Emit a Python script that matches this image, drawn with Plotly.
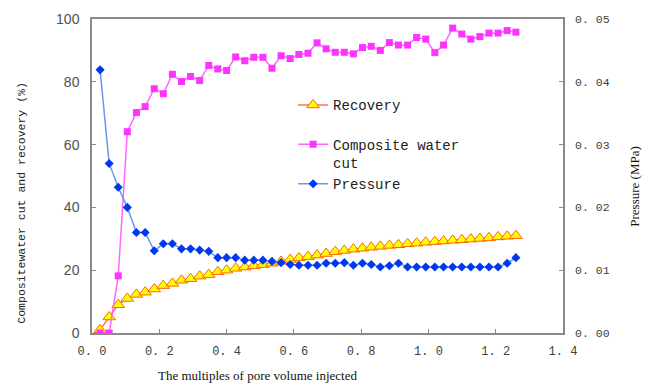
import plotly.graph_objects as go

pv_injected = [0.024, 0.051, 0.078, 0.105, 0.132, 0.158, 0.185, 0.212, 0.239, 0.266,
               0.293, 0.320, 0.347, 0.374, 0.400, 0.427, 0.454, 0.481, 0.508, 0.535,
               0.562, 0.589, 0.615, 0.642, 0.669, 0.696, 0.723, 0.750, 0.777, 0.804,
               0.830, 0.857, 0.884, 0.911, 0.938, 0.965, 0.992, 1.019, 1.045, 1.072,
               1.099, 1.126, 1.153, 1.180, 1.207, 1.234, 1.260]

recovery = [1.0, 5.1, 9.0, 11.0, 12.3, 13.0, 14.0, 15.1, 15.8, 16.8,
            17.3, 18.1, 18.6, 19.5, 20.0, 20.6, 21.0, 21.4, 21.8, 22.2,
            22.8, 23.4, 23.9, 24.3, 24.8, 25.3, 25.9, 26.3, 26.7, 27.0,
            27.3, 27.6, 27.9, 28.1, 28.4, 28.6, 28.9, 29.1, 29.3, 29.5,
            29.7, 29.9, 30.1, 30.3, 30.6, 30.8, 31.0]

water_cut = [0.0, 0.0, 18.2, 64.1, 70.2, 72.1, 77.8, 76.2, 82.4, 80.1,
             81.7, 80.4, 85.2, 84.1, 83.6, 87.9, 86.7, 87.8, 87.8, 84.3,
             88.3, 87.4, 88.7, 89.1, 92.4, 90.5, 89.4, 89.4, 88.9, 90.9,
             91.3, 90.0, 92.5, 91.7, 91.7, 94.1, 93.6, 89.3, 91.7, 97.1,
             95.2, 93.6, 94.4, 95.5, 95.5, 96.3, 95.8]

pressure = [0.0419, 0.0270, 0.0232, 0.0200, 0.0160, 0.0160, 0.0131, 0.0142, 0.0142, 0.0134,
            0.0134, 0.0132, 0.0130, 0.0120, 0.0120, 0.0120, 0.0116, 0.0116, 0.0116, 0.0114,
            0.0112, 0.0109, 0.0108, 0.0108, 0.0108, 0.0111, 0.0111, 0.0112, 0.0108, 0.0111,
            0.0109, 0.0105, 0.0107, 0.0111, 0.0105, 0.0105, 0.0105, 0.0105, 0.0105, 0.0105,
            0.0105, 0.0105, 0.0105, 0.0105, 0.0105, 0.0111, 0.0120]

x_tickvals = [0.0, 0.2, 0.4, 0.6, 0.8, 1.0, 1.2, 1.4]
x_ticktext = ["0. 0", "0. 2", "0. 4", "0. 6", "0. 8", "1. 0", "1. 2", "1. 4"]
y_tickvals = [0, 20, 40, 60, 80, 100]
y2_tickvals = [0.0, 0.01, 0.02, 0.03, 0.04, 0.05]
y2_ticktext = ["0. 00", "0. 01", "0. 02", "0. 03", "0. 04", "0. 05"]

names = ["Recovery\u00a0<br>\u00a0", "Composite water<br>cut", "Pressure"]
x_title = "The multiples of pore volume injected"
y_title = "Compositewater cut and recovery (%)"
y2_title = "Pressure (MPa)"

fig = go.Figure()
fig.add_trace(go.Scatter(
    x=pv_injected, y=recovery, name=names[0], mode="lines+markers",
    line=dict(color="#FF7050", width=1.5),
    marker=dict(symbol="triangle-up", size=11, color="#FFFF00",
                line=dict(color="#FF6600", width=1))))
fig.add_trace(go.Scatter(
    x=pv_injected, y=water_cut, name=names[1], mode="lines+markers",
    line=dict(color="#FF66FF", width=1.5),
    marker=dict(symbol="square", size=7, color="#FF33FF")))
fig.add_trace(go.Scatter(
    x=pv_injected, y=pressure, name=names[2], mode="lines+markers", yaxis="y2",
    line=dict(color="#6699EE", width=1.5),
    marker=dict(symbol="diamond", size=7, color="#0038F0")))

axis_line = dict(showline=True, linecolor="#8a8a8a", linewidth=1.5,
                 showgrid=False, zeroline=False, ticks="inside", ticklen=4,
                 tickcolor="#8a8a8a")

fig.update_layout(
    width=657, height=390,
    margin=dict(l=92, r=94, t=19, b=57),
    paper_bgcolor="white", plot_bgcolor="white",
    showlegend=True,
    legend=dict(x=0.427, y=0.776, xanchor="left", yanchor="top",
                bgcolor="rgba(255,255,255,1)", valign="top",
                font=dict(family="Liberation Mono", size=14, color="#222222"),
                tracegroupgap=0),
    xaxis=dict(range=[0, 1.4], tickvals=x_tickvals, ticktext=x_ticktext,
               mirror=True,
               tickfont=dict(family="Liberation Mono", size=12, color="#404040"),
               ticklabelstandoff=6, **axis_line),
    yaxis=dict(range=[0, 100], tickvals=y_tickvals,
               tickfont=dict(family="Liberation Sans", size=14, color="#505050"),
               ticklabelstandoff=8, **axis_line),
    yaxis2=dict(range=[0, 0.05], tickvals=y2_tickvals, ticktext=y2_ticktext,
                overlaying="y", side="right",
                tickfont=dict(family="Liberation Mono", size=11.5, color="#404040"),
                ticklabelstandoff=8, **axis_line),
    annotations=[
        dict(text=x_title, xref="paper", yref="paper", x=0.352, y=-0.134,
             showarrow=False, xanchor="center", yanchor="middle",
             font=dict(family="Liberation Serif", size=13, color="#111111")),
        dict(text=y_title, xref="paper", yref="paper", x=-0.1486, y=0.415,
             showarrow=False, xanchor="center", yanchor="middle", textangle=-90,
             font=dict(family="Liberation Mono", size=11.5, color="#222222")),
        dict(text=y2_title, xref="paper", yref="paper", x=1.153, y=0.466,
             showarrow=False, xanchor="center", yanchor="middle", textangle=-90,
             font=dict(family="Liberation Serif", size=13, color="#111111")),
    ],
)

fig.write_html("out.html")
